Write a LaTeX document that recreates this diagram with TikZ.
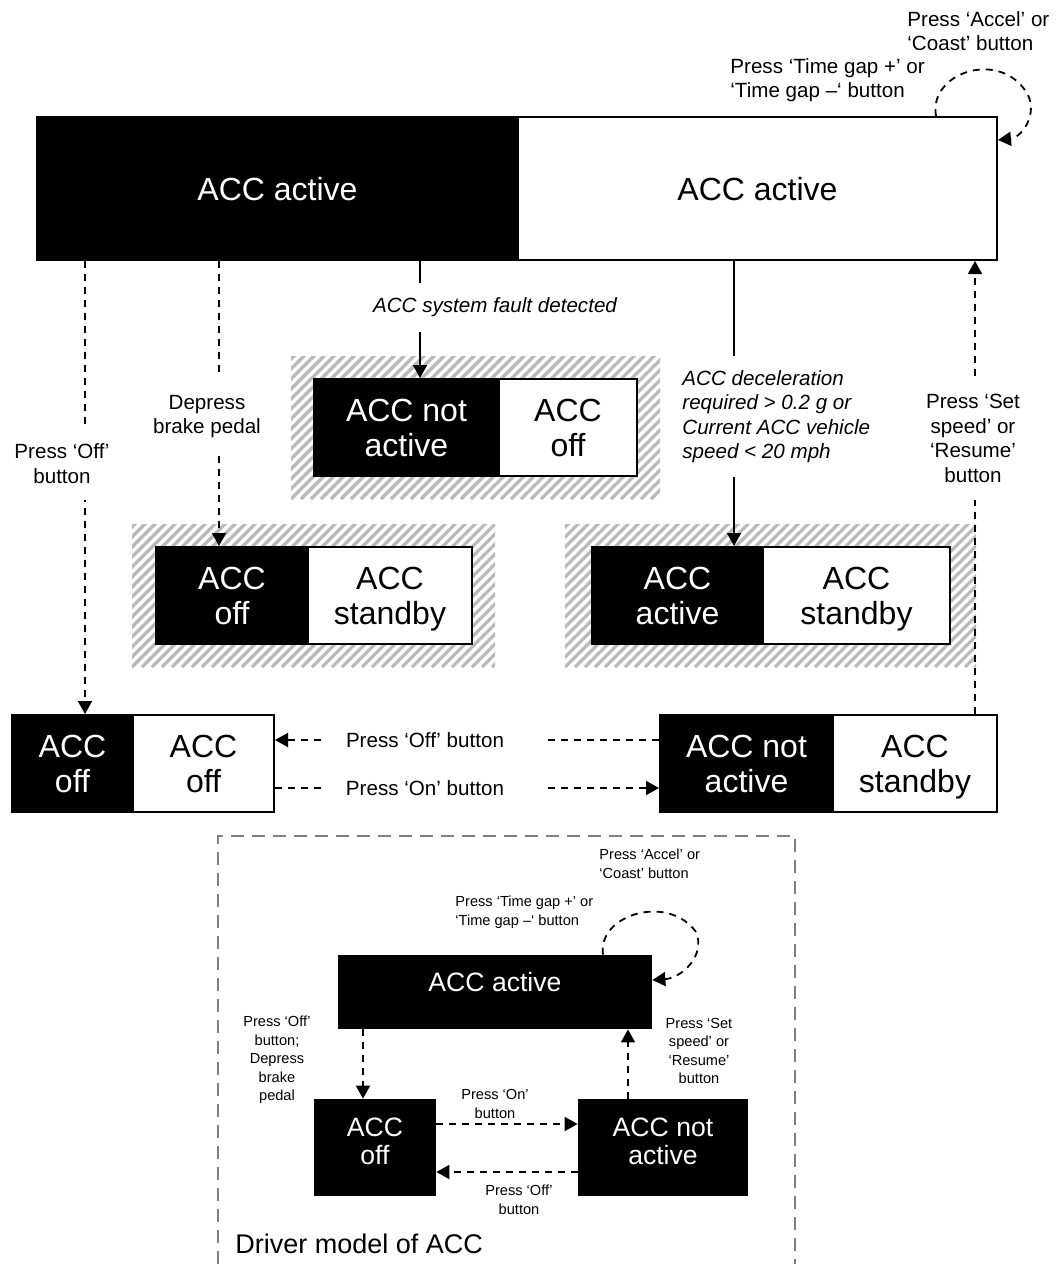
\documentclass[tikz,border=0pt]{standalone}
\usepackage{fontspec}
\setmainfont{Liberation Sans}
\usetikzlibrary{arrows.meta}

% type sizes
\newcommand\stateFont{\fontsize{16}{17.5}\selectfont}
\newcommand\labelFont{\fontsize{10.3}{12.2}\selectfont}
\newcommand\miniStateFont{\fontsize{13.3}{14}\selectfont}
\newcommand\miniLabelFont{\fontsize{7.3}{9.3}\selectfont}
\newcommand\captionFont{\fontsize{13.5}{16}\selectfont}

% one half of a state box, given by its corners
\newcommand\partbox[7]{%
  \node[#6, minimum width={(#4-#2)*0.5pt}, minimum height={(#5-#3)*0.5pt}]
    (#1) at ({(#2+#4)/2},{(#3+#5)/2}) {#7};}

% grey diagonal hatching behind a transitional state
\newcommand\hatcharea[4]{%
  \begin{scope}
    \clip (#1,#2) rectangle (#3,#4);
    \foreach \s in {0,10,...,600}
      \draw[hatchline] ({#1-160+\s},#4) -- ++(170,-170);
  \end{scope}}

\begin{document}
\begin{tikzpicture}[x=0.5pt,y=-0.5pt,
  darkpart/.style={fill=black,draw=black,line width=1pt,text=white,
    inner sep=0pt,font=\stateFont,align=center,text depth=0pt},
  lightpart/.style={fill=white,draw=black,line width=1pt,text=black,
    inner sep=0pt,font=\stateFont,align=center,text depth=0pt},
  minidark/.style={fill=black,text=white,inner sep=0pt,
    font=\miniStateFont,align=center},
  hatchline/.style={draw=black!27,line width=1.6pt},
  tip/.style={-{Triangle[length=6.5pt,width=7pt]}},
  solidconn/.style={tip,line width=0.9pt},
  dashconn/.style={tip,line width=0.9pt,dash pattern=on 3.5pt off 3pt},
  gaplabel/.style={fill=white,inner xsep=2pt,inner ysep=0pt,font=\labelFont},
  plainlabel/.style={inner sep=1pt,font=\labelFont},
  minilabel/.style={inner sep=1pt,font=\miniLabelFont,align=center},
  frame/.style={draw=black!50,line width=0.8pt,dash pattern=on 6.5pt off 4pt}]

\useasboundingbox (0,0) rectangle (1057,1264);

% ---------- hatched backgrounds ----------
\hatcharea{291}{356}{660}{499}
\hatcharea{132}{524}{495}{667}
\hatcharea{565}{524}{976}{667}

% ---------- state boxes (system model) ----------
\partbox{topL}{37}{117}{518}{260}{darkpart}{ACC active}
\partbox{topR}{518}{117}{997}{260}{lightpart}{ACC active}

\partbox{faultL}{314}{379}{499}{476}{darkpart}{ACC not\\active}
\partbox{faultR}{499}{379}{637}{476}{lightpart}{ACC\\off}

\partbox{brakeL}{156}{547}{308}{644}{darkpart}{ACC\\off}
\partbox{brakeR}{308}{547}{472}{644}{lightpart}{ACC\\standby}

\partbox{decelL}{592}{547}{763}{644}{darkpart}{ACC\\active}
\partbox{decelR}{763}{547}{950}{644}{lightpart}{ACC\\standby}

\partbox{offL}{12}{715}{133}{812}{darkpart}{ACC\\off}
\partbox{offR}{133}{715}{274}{812}{lightpart}{ACC\\off}

\partbox{notL}{660}{715}{833}{812}{darkpart}{ACC not\\active}
\partbox{notR}{833}{715}{997}{812}{lightpart}{ACC\\standby}

% ---------- transitions (system model) ----------
\draw[dashconn] (topL.south -| 85,0) -- (offL.north -| 85,0);
\draw[dashconn] (topL.south -| 219,0) -- (brakeL.north -| 219,0);
\draw[solidconn] (topL.south -| 420,0) -- (faultL.north -| 420,0);
\draw[solidconn] (topR.south -| 734,0) -- (decelL.north -| 734,0);
\draw[dashconn] (notR.north -| 975,0) -- (topR.south -| 975,0);
\draw[dashconn] (notL.west |- 0,740) -- (offR.east |- 0,740);
\draw[dashconn] (offR.east |- 0,788) -- (notL.west |- 0,788);
\draw[dashconn] (topR.north -| 936,0) .. controls (928,72) and (1002,48) .. (1028,95)
  .. controls (1038,117) and (1020,138) .. (topR.east |- 0,140);

% ---------- transition labels (system model) ----------
\node[gaplabel,align=center,minimum height=36.5pt] (offLbl) at (62,463.5) {Press ‘Off’\\button};
\node[gaplabel,align=center,minimum height=38.5pt] (brakeLbl) at (207,416.5) {Depress\\brake pedal};
\node[gaplabel,font=\labelFont\itshape,minimum height=24.5pt] (faultLbl) at (495,307.5) {ACC system fault detected};
\node[gaplabel,font=\labelFont\itshape,align=left,anchor=west,minimum height=60.5pt] (decelLbl) at (678,416.5)
  {ACC deceleration\\required > 0.2 g or\\Current ACC vehicle\\speed < 20 mph};
\node[gaplabel,align=center,minimum height=61.5pt] (setLbl) at (973,438.5) {Press ‘Set\\speed’ or\\‘Resume’\\button};
\node[gaplabel,minimum width=110pt,minimum height=14pt] (offBtnLbl) at (433,740) {Press ‘Off’ button\hspace*{8pt}};
\node[gaplabel,minimum width=110pt,minimum height=14pt] (onBtnLbl) at (433,788) {Press ‘On’ button\hspace*{8pt}};
\node[plainlabel,align=left,anchor=west] (gapLbl) at (728,80) {Press ‘Time gap +’ or\\‘Time gap –‘ button};
\node[plainlabel,align=left,anchor=west] (accelLbl) at (905,31) {Press ‘Accel’ or\\‘Coast’ button};

% ---------- driver model ----------
\draw[frame] (218,1264) -- (218,836) -- (795,836) -- (795,1264);

\partbox{mActive}{338}{955}{652}{1029}{minidark,text depth=10pt}{ACC active}
\partbox{mOff}{314}{1099}{436}{1196}{minidark,text depth=6.5pt}{ACC\\off}
\partbox{mNot}{578}{1099}{748}{1196}{minidark,text depth=6.5pt}{ACC not\\active}

\draw[dashconn] (mActive.south -| 363,0) -- (mOff.north -| 363,0);
\draw[dashconn] (mNot.north -| 628,0) -- (mActive.south -| 628,0);
\draw[dashconn] (mOff.east |- 0,1124) -- (mNot.west |- 0,1124);
\draw[dashconn] (mNot.west |- 0,1172) -- (mOff.east |- 0,1172);
\draw[dashconn] (mActive.north -| 603,0) .. controls (597,915) and (668,893) .. (696,932)
  .. controls (706,955) and (682,978) .. (mActive.east |- 0,980);

\node[minilabel] (mOffLbl) at (277,1060) {Press ‘Off’\\button;\\Depress\\brake\\pedal};
\node[minilabel] (mSetLbl) at (699,1051) {Press ‘Set\\speed’ or\\‘Resume’\\button};
\node[minilabel] (mOnLbl) at (495,1104) {Press ‘On’\\button};
\node[minilabel] (mOffBtnLbl) at (519,1200) {Press ‘Off’\\button};
\node[minilabel,align=left,anchor=west] (mGapLbl) at (453,912) {Press ‘Time gap +’ or\\‘Time gap –‘ button};
\node[minilabel,align=left,anchor=west] (mAccelLbl) at (597,864) {Press ‘Accel’ or\\‘Coast’ button};
\node[anchor=west,font=\captionFont,inner sep=0pt] (caption) at (235,1244) {Driver model of ACC};

\end{tikzpicture}
\end{document}
